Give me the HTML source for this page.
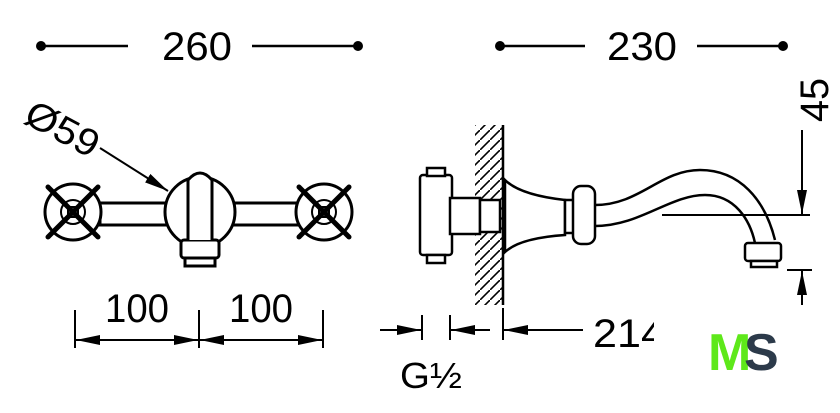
<!DOCTYPE html>
<html><head><style>html,body{margin:0;padding:0;background:#fff}svg{display:block}</style></head><body>
<svg width="840" height="413" viewBox="0 0 840 413" xmlns="http://www.w3.org/2000/svg" font-family="Liberation Sans, sans-serif">
<defs>
<marker id="a" markerWidth="24" markerHeight="10" refX="24" refY="5" orient="auto-start-reverse" markerUnits="userSpaceOnUse"><path d="M0,0 L24,5 L0,10 z" fill="#000"/></marker>
<pattern id="h" width="10" height="10" patternUnits="userSpaceOnUse"><path d="M-2,12 L12,-2" stroke="#000" stroke-width="1.6"/></pattern>
</defs>
<g stroke="#000" fill="none" stroke-width="2.5">
<line x1="41" y1="46" x2="128" y2="46"/><line x1="252" y1="46" x2="358" y2="46"/>
<line x1="500" y1="46" x2="585" y2="46"/><line x1="697" y1="46" x2="783" y2="46"/>
</g>
<g fill="#000"><circle cx="41" cy="46" r="5"/><circle cx="358" cy="46" r="5"/><circle cx="500" cy="46" r="5"/><circle cx="783" cy="46" r="5"/></g>
<g font-size="40" fill="#000"><text x="197" y="60" text-anchor="middle" textLength="70" lengthAdjust="spacingAndGlyphs">260</text><text x="642" y="60" text-anchor="middle" textLength="70" lengthAdjust="spacingAndGlyphs">230</text></g>
<!-- front view -->
<g stroke="#000" stroke-width="3" fill="#fff">
<rect x="100" y="203" width="200" height="22"/>
<circle cx="73" cy="212" r="28"/><circle cx="73" cy="212" r="12" stroke-width="2"/><rect x="68" y="207" width="10" height="10" stroke-width="2"/>
<circle cx="324" cy="212" r="28"/><circle cx="324" cy="212" r="12" stroke-width="2"/><rect x="319" y="207" width="10" height="10" stroke-width="2"/>
<circle cx="200" cy="212" r="35"/>
<rect x="181" y="240" width="38" height="18" rx="3"/>
<rect x="185" y="258" width="30" height="8"/>
<path d="M188,240 L188,180 Q200,166 212,180 L212,240"/>
</g>
<g stroke="#000" stroke-width="5" stroke-linecap="round">
<line x1="48" y1="187" x2="98" y2="237"/><line x1="98" y1="187" x2="48" y2="237"/>
<line x1="299" y1="187" x2="349" y2="237"/><line x1="349" y1="187" x2="299" y2="237"/>
</g>
<line x1="100" y1="148" x2="168" y2="191" stroke="#000" stroke-width="2" marker-end="url(#a)"/>
<text x="0" y="0" font-size="38" fill="#000" transform="translate(22,122) rotate(28)" textLength="78" lengthAdjust="spacingAndGlyphs">Ø59</text>
<g stroke="#000" stroke-width="2" fill="none">
<line x1="75" y1="310" x2="75" y2="348"/><line x1="199" y1="310" x2="199" y2="348"/><line x1="323" y1="310" x2="323" y2="348"/>
<line x1="76" y1="340" x2="198" y2="340" marker-start="url(#a)" marker-end="url(#a)"/>
<line x1="200" y1="340" x2="322" y2="340" marker-start="url(#a)" marker-end="url(#a)"/>
</g>
<g font-size="40" fill="#000"><text x="137" y="322" text-anchor="middle" textLength="64" lengthAdjust="spacingAndGlyphs">100</text><text x="261" y="322" text-anchor="middle" textLength="64" lengthAdjust="spacingAndGlyphs">100</text></g>
<!-- side view -->
<rect x="475" y="125" width="28" height="180" fill="url(#h)"/>
<line x1="503" y1="125" x2="503" y2="305" stroke="#000" stroke-width="2.5"/>
<g stroke="#000" stroke-width="2.5" fill="#fff">
<rect x="420" y="175" width="32" height="80" rx="3"/>
<rect x="427" y="168" width="18" height="8"/><rect x="427" y="255" width="18" height="8"/>
<rect x="450" y="198" width="30" height="36"/><rect x="480" y="200" width="20" height="32"/>
<path d="M505,180 Q520,195 565,200 L565,235 Q520,238 505,252 z"/>
<rect x="565" y="200" width="10" height="33"/>
<rect x="573" y="186" width="22" height="58" rx="8"/>
<path d="M595,205 C640,205 660,170 700,170 C740,170 765,200 775,240" fill="none"/>
<path d="M595,226 C640,226 670,195 705,195 C735,195 750,220 755,243" fill="none"/>
<rect x="745" y="243" width="36" height="18" rx="3"/><rect x="751" y="261" width="26" height="6"/>
</g>
<g stroke="#000" stroke-width="2" fill="none">
<line x1="662" y1="215" x2="810" y2="215"/>
<line x1="802" y1="130" x2="802" y2="214" marker-end="url(#a)"/>
<line x1="787" y1="270" x2="812" y2="270"/>
<line x1="802" y1="305" x2="802" y2="271" marker-end="url(#a)"/>
<line x1="422" y1="315" x2="422" y2="340"/><line x1="450" y1="315" x2="450" y2="340"/><line x1="503" y1="308" x2="503" y2="340"/>
<line x1="380" y1="330" x2="421" y2="330" marker-end="url(#a)"/>
<line x1="490" y1="330" x2="451" y2="330" marker-end="url(#a)"/>
<line x1="583" y1="330" x2="504" y2="330" marker-end="url(#a)"/>
</g>
<text x="0" y="0" font-size="40" fill="#000" transform="translate(828,122) rotate(-90)" textLength="44" lengthAdjust="spacingAndGlyphs">45</text>
<svg x="590" y="305" width="64" height="50"><text x="3" y="42" font-size="40" fill="#000" textLength="72" lengthAdjust="spacingAndGlyphs">214</text></svg>
<text x="400" y="388" font-size="36" fill="#000" textLength="62" lengthAdjust="spacingAndGlyphs">G½</text>
<text x="708" y="370" font-size="52" font-weight="bold" fill="#5ee81a" letter-spacing="-4">M</text>
<text x="744" y="370" font-size="52" font-weight="bold" fill="#2c3a4a">S</text>
</svg>
</body></html>
